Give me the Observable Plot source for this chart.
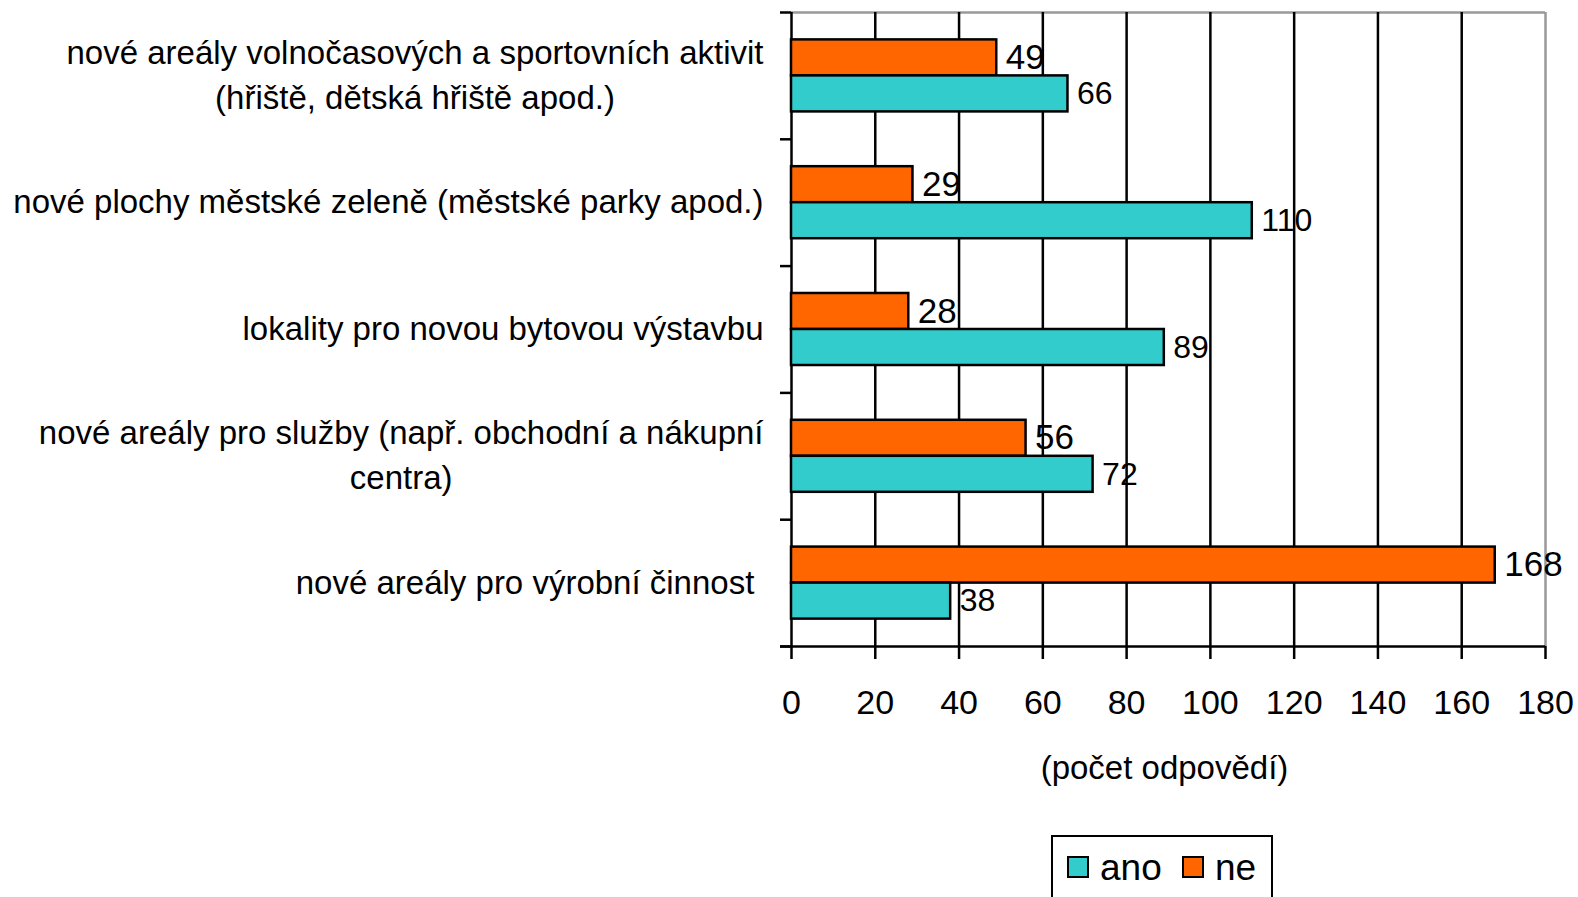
<!DOCTYPE html>
<html>
<head>
<meta charset="utf-8">
<script src="https://cdn.jsdelivr.net/npm/d3@7"></script>
<script src="https://cdn.jsdelivr.net/npm/@observablehq/plot@0.6"></script>
<style>
  body { margin: 0; background: #fff; }
  #wrap { position: relative; width: 1578px; height: 897px; overflow: hidden; font-family: "Liberation Sans", Arial, sans-serif; color: #000; }
  #legendBox { position: absolute; left: 1051px; top: 835px; width: 222px; height: 90px; border: 2.5px solid #000; box-sizing: border-box; background: #fff; }
  .sw { position: absolute; width: 22px; height: 22px; border: 2px solid #000; box-sizing: border-box; }
  .lt { position: absolute; font-size: 37px; line-height: 37px; white-space: nowrap; }
</style>
</head>
<body>
<div id="wrap"></div>
<script>
// ---- data ----
const categories = [
  "nové areály volnočasových a sportovních aktivit\n(hřiště, dětská hřiště apod.)",
  "nové plochy městské zeleně (městské parky apod.)",
  "lokality pro novou bytovou výstavbu",
  "nové areály pro služby (např. obchodní a nákupní\ncentra)",
  "nové areály pro výrobní činnost "
];
const seriesNames = ["ano", "ne"];
const anoValues = [66, 110, 89, 72, 38];
const neValues = [49, 29, 28, 56, 168];
const xTicks = [0, 20, 40, 60, 80, 100, 120, 140, 160, 180];
const axisTitle = "(počet odpovědí)";
const seriesColors = ["#33CCCC", "#FF6600"];

// ---- layout helpers ----
const FONT = "'Liberation Sans', Arial, sans-serif";
const barFrac = 0.284; // fraction of category band per bar
const rows = [];
categories.forEach((c, i) => {
  // "ne" drawn above "ano" within each category
  [["ne", neValues[i], 0], ["ano", anoValues[i], 1]].forEach(([s, v, slot]) => {
    const y1 = i + 0.5 - barFrac + slot * barFrac;
    rows.push({category: c, idx: i, series: s, value: v, y1, y2: y1 + barFrac, yc: y1 + barFrac / 2});
  });
});
const catRows = categories.map((c, i) => ({category: c, idx: i, yc: i + 0.5}));

// measure label widths to right-align centred multi-line blocks
const ctx = document.createElement("canvas").getContext("2d");
ctx.font = "33px 'Liberation Sans'";
const blockWidth = (t) => Math.max(...t.split("\n").map((l) => ctx.measureText(l).width));

const labelMarks = catRows.map((r) =>
  Plot.text([r], {
    y: "yc",
    frameAnchor: "left",
    text: "category",
    textAnchor: "middle",
    lineHeight: 1.37,
    fontSize: 33,
    dy: -4,
    dx: -28 - blockWidth(r.category) / 2
  })
);

const plot = Plot.plot({
  width: 1578,
  height: 897,
  marginTop: 12,
  marginBottom: 251,
  marginLeft: 791,
  marginRight: 33,
  style: {fontFamily: FONT, background: "transparent", color: "#000"},
  x: {domain: [0, 180]},
  y: {domain: [0, categories.length], reverse: true},
  color: {domain: seriesNames, range: seriesColors},
  marks: [
    Plot.ruleY([0], {stroke: "#999", strokeWidth: 2.5}),
    Plot.ruleX([180], {stroke: "#999", strokeWidth: 2.5}),
    Plot.ruleX(xTicks.filter((t) => t < 180), {stroke: "#000", strokeWidth: 2.5}),
    Plot.rect(rows, {x1: () => 0, x2: "value", y1: "y1", y2: "y2", fill: "series", stroke: "#000", strokeWidth: 2.5}),
    Plot.ruleY([categories.length], {stroke: "#000", strokeWidth: 2.5, insetLeft: -11}),
    Plot.axisY({ticks: d3.range(categories.length + 1), tickSize: 11, tickFormat: () => "", strokeWidth: 2.5, stroke: "#000"}),
    Plot.axisX({ticks: xTicks, tickSize: 13, tickPadding: 30, fontSize: 34, strokeWidth: 2.5, stroke: "#000", fill: "#000", label: null, tickFormat: (d) => String(d)}),
    Plot.text([axisTitle], {frameAnchor: "bottom", dy: 132, dx: -4, fontSize: 33, textAnchor: "middle"}),
    Plot.text(rows.filter((d) => d.series === "ne"), {x: "value", y: "yc", text: (d) => String(d.value), textAnchor: "start", dx: 9, fontSize: 35}),
    Plot.text(rows.filter((d) => d.series === "ano"), {x: "value", y: "yc", text: (d) => String(d.value), textAnchor: "start", dx: 9, fontSize: 32}),
    ...labelMarks
  ]
});

const wrap = document.getElementById("wrap");
wrap.appendChild(plot);

// legend (HTML, below the plot area)
const color = plot.scale("color");
const lb = document.createElement("div");
lb.id = "legendBox";
wrap.appendChild(lb);
const items = [
  {name: seriesNames[0], sx: 1067, tx: 1100},
  {name: seriesNames[1], sx: 1182, tx: 1215}
];
items.forEach((it) => {
  const sw = document.createElement("div");
  sw.className = "sw";
  sw.style.left = it.sx + "px";
  sw.style.top = "856px";
  sw.style.background = color.apply(it.name);
  wrap.appendChild(sw);
  const t = document.createElement("span");
  t.className = "lt";
  t.style.left = it.tx + "px";
  t.style.top = "849px";
  t.textContent = it.name;
  wrap.appendChild(t);
});
</script>
</body>
</html>
